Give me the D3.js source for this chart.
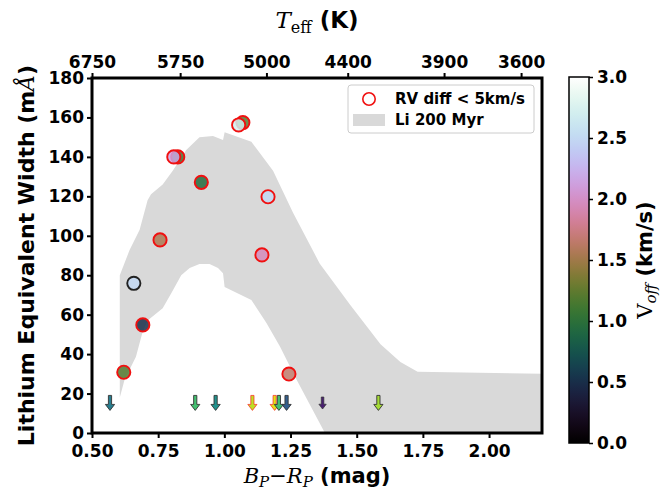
<!DOCTYPE html>
<html><head><meta charset="utf-8">
<script src="https://cdn.jsdelivr.net/npm/d3@7"></script>
<style>
body{margin:0;background:#fff;}
text{font-family:"DejaVu Sans",sans-serif;font-weight:bold;}
</style></head>
<body><svg id="c" width="660" height="491"></svg>
<script>
// ---- data ----
const detBP   = [0.62, 0.692, 0.658, 0.757, 0.824, 0.809, 0.913, 1.07, 1.054, 1.165, 1.142, 1.244];
const detEW   = [30.8, 54.8, 75.9, 97.9, 140, 140, 127.1, 157.4, 156.2, 119.8, 90.3, 29.9];
const detVoff = [1.2, 0.5, 2.5, 1.55, 1.1, 2.15, 0.95, 1.2, 2.7, 2.5, 1.95, 1.65];
const detRV   = [true, true, false, true, true, true, true, true, true, true, true, true];

const limBP   = [0.568, 0.89, 0.967, 1.106, 1.19, 1.206, 1.235, 1.371, 1.582];
const limEW   = [15, 15, 15, 15, 15, 15, 15, 15, 15];
const limVoff = [1.26, 2.1, 1.5, 2.7, 2.85, 2.1, 0.9, 0.25, 2.6];
const limRV   = [false, false, false, true, true, false, false, false, false];

const bandUpperBP = [0.605, 0.642, 0.68, 0.71, 0.723, 0.767, 0.805, 0.856, 0.906, 0.957, 0.995, 1.001, 1.102, 1.184, 1.26, 1.36, 1.475, 1.59, 1.665, 1.73, 2.2];
const bandUpperEW = [80, 92.8, 103, 118, 121, 126, 133, 143.5, 150, 150.6, 148.6, 152.5, 147.7, 133, 111.5, 86, 65, 45, 36, 31, 30];
const bandLowerBP = [2.2, 1.38, 1.273, 1.21, 1.159, 1.102, 1.001, 0.995, 0.976, 0.944, 0.906, 0.869, 0.837, 0.8, 0.767, 0.71, 0.69, 0.666, 0.623, 0.605];
const bandLowerEW = [0, 0, 27, 43.8, 55.8, 67.4, 74, 81, 83.7, 85.7, 85.7, 83.7, 80, 71, 63.2, 57, 50.7, 38.7, 27, 18];

const xTicks = [0.5, 0.75, 1.0, 1.25, 1.5, 1.75, 2.0];
const yTicks = [0, 20, 40, 60, 80, 100, 120, 140, 160, 180];
const teffLabels = ["6750", "5750", "5000", "4400", "3900", "3600"];
const teffBP = [0.5, 0.833, 1.159, 1.466, 1.83, 2.121];
const cbTicks = [0, 0.5, 1.0, 1.5, 2.0, 2.5, 3.0];

// ---- layout ----
const svg = d3.select("#c");
const L = 92, R = 542, T = 78, B = 433;
const x = d3.scaleLinear().domain([0.5, 2.2]).range([L, R]);
const y = d3.scaleLinear().domain([0, 180]).range([B, T]);
const cmap = d3.scaleSequential(d3.interpolateCubehelixDefault).domain([0, 3]);
const amap = d3.scaleSequential(d3.interpolateViridis).domain([0, 3]);

const defs = svg.append("defs");
defs.append("clipPath").attr("id", "clip").append("rect").attr("x", L).attr("y", T).attr("width", R - L).attr("height", B - T);

// band
const bandPts = bandUpperBP.map((b, i) => [b, bandUpperEW[i]]).concat(bandLowerBP.map((b, i) => [b, bandLowerEW[i]]));
svg.append("path")
  .attr("d", d3.line().x(d => x(d[0])).y(d => y(d[1]))(bandPts) + "Z")
  .attr("fill", "#d9d9d9").attr("clip-path", "url(#clip)");

// upper limit arrows
const arrowPath = "M-1.6,-8 L1.6,-8 L1.6,1 L4.6,1 L0,7 L-4.6,1 L-1.6,1 Z";
const g = svg.append("g");
limBP.forEach((b, i) => {
  g.append("path").attr("d", arrowPath)
    .attr("transform", `translate(${x(b)},${y(limEW[i])})` + (i === 7 ? " scale(0.8)" : ""))
    .attr("fill", amap(limVoff[i]))
    .attr("stroke", limRV[i] ? "#ff2020" : "#333").attr("stroke-width", limRV[i] ? 0.7 : 0.9);
});

// detections
detBP.forEach((b, i) => {
  g.append("circle").attr("cx", x(b)).attr("cy", y(detEW[i])).attr("r", 6.6)
    .attr("fill", cmap(detVoff[i])).attr("fill-opacity", 0.85)
    .attr("stroke", detRV[i] ? "#f01010" : "#222").attr("stroke-width", 1.9);
});

// axes
const fs = 17;
const xAxis = svg.append("g").attr("transform", `translate(0,${B})`)
  .call(d3.axisBottom(x).tickValues(xTicks).tickFormat(d3.format(".2f")).tickSize(5).tickSizeOuter(0));
const yAxis = svg.append("g").attr("transform", `translate(${L},0)`)
  .call(d3.axisLeft(y).tickValues(yTicks).tickFormat(d3.format("d")).tickSize(5).tickSizeOuter(0));
const tAxis = svg.append("g").attr("transform", `translate(0,${T})`)
  .call(d3.axisTop(x).tickValues(teffBP).tickFormat((d, i) => teffLabels[i]).tickSize(5).tickSizeOuter(0));
[xAxis, yAxis, tAxis].forEach(a => {
  a.select(".domain").remove();
  a.selectAll(".tick line").attr("stroke", "#000").attr("stroke-width", 2);
  a.selectAll(".tick text").attr("font-size", fs).attr("font-weight", "bold").attr("fill", "#000").attr("font-family", "DejaVu Sans");
});
xAxis.selectAll(".tick text").attr("dy", "0.95em");
yAxis.selectAll(".tick text").attr("x", -8);
tAxis.selectAll(".tick text").attr("y", -10);

// frame
svg.append("rect").attr("x", L).attr("y", T).attr("width", R - L).attr("height", B - T)
  .attr("fill", "none").attr("stroke", "#000").attr("stroke-width", 3);

// axis labels
const xl = svg.append("text").attr("x", (L + R) / 2).attr("y", 483).attr("text-anchor", "middle").attr("font-size", 21);
xl.append("tspan").attr("font-family", "DejaVu Serif").attr("font-style", "italic").attr("font-weight", "normal").text("B");
xl.append("tspan").attr("font-family", "DejaVu Serif").attr("font-style", "italic").attr("font-weight", "normal").attr("font-size", 15).attr("dy", 4).text("P");
xl.append("tspan").attr("font-family", "DejaVu Sans").attr("font-weight", "normal").attr("dy", -4).text("\u2212");
xl.append("tspan").attr("font-family", "DejaVu Serif").attr("font-style", "italic").attr("font-weight", "normal").text("R");
xl.append("tspan").attr("font-family", "DejaVu Serif").attr("font-style", "italic").attr("font-weight", "normal").attr("font-size", 15).attr("dy", 4).text("P");
xl.append("tspan").attr("dy", -4).text(" (mag)");

const yl = svg.append("text").attr("transform", `translate(34,${(T + B) / 2}) rotate(-90)`).attr("text-anchor", "middle").attr("font-size", 22);
yl.append("tspan").text("Lithium Equivalent Width (m");
yl.append("tspan").attr("font-family", "DejaVu Serif").attr("font-style", "italic").attr("font-weight", "normal").text("\u00C5");
yl.append("tspan").text(")");

const tl = svg.append("text").attr("x", (L + R) / 2).attr("y", 28).attr("text-anchor", "middle").attr("font-size", 23);
tl.append("tspan").attr("font-family", "DejaVu Serif").attr("font-style", "italic").attr("font-weight", "normal").text("T");
tl.append("tspan").attr("font-family", "DejaVu Serif").attr("font-weight", "normal").attr("font-size", 16).attr("dy", 5).text("eff");
tl.append("tspan").attr("dy", -5).text(" (K)");

// legend
const lg = svg.append("g");
lg.append("rect").attr("x", 348).attr("y", 85).attr("width", 186).attr("height", 48).attr("rx", 3)
  .attr("fill", "#fff").attr("fill-opacity", 0.8).attr("stroke", "#ccc").attr("stroke-width", 1);
lg.append("circle").attr("cx", 369).attr("cy", 99).attr("r", 6.2).attr("fill", "none").attr("stroke", "#f01010").attr("stroke-width", 1.6);
lg.append("rect").attr("x", 353).attr("y", 114).attr("width", 32).attr("height", 12).attr("fill", "#d9d9d9");
lg.append("text").attr("x", 395).attr("y", 104).attr("font-size", 15).text("RV diff < 5km/s");
lg.append("text").attr("x", 395).attr("y", 125).attr("font-size", 15).text("Li 200 Myr");

// colorbar
const cbX = 569, cbW = 20, cbT = 77, cbB = 443;
const cy = d3.scaleLinear().domain([0, 3]).range([cbB, cbT]);
const grad = defs.append("linearGradient").attr("id", "cbg").attr("x1", 0).attr("y1", 1).attr("x2", 0).attr("y2", 0);
d3.range(0, 1.0001, 0.02).forEach(t => grad.append("stop").attr("offset", t).attr("stop-color", cmap(t * 3)));
svg.append("rect").attr("x", cbX).attr("y", cbT).attr("width", cbW).attr("height", cbB - cbT).attr("fill", "url(#cbg)")
  .attr("stroke", "#000").attr("stroke-width", 1.5);
const cbAxis = svg.append("g").attr("transform", `translate(${cbX + cbW},0)`)
  .call(d3.axisRight(cy).tickValues(cbTicks).tickFormat(d3.format(".1f")).tickSize(4).tickSizeOuter(0));
cbAxis.select(".domain").remove();
cbAxis.selectAll(".tick line").attr("stroke", "#000").attr("stroke-width", 1.5);
cbAxis.selectAll(".tick text").attr("font-size", fs).attr("font-weight", "bold").attr("fill", "#000").attr("font-family", "DejaVu Sans").attr("x", 8);

const cl = svg.append("text").attr("transform", `translate(652,${(cbT + cbB) / 2}) rotate(-90)`).attr("text-anchor", "middle").attr("font-size", 21);
cl.append("tspan").attr("font-family", "DejaVu Serif").attr("font-weight", "normal").text("V");
cl.append("tspan").attr("font-family", "DejaVu Serif").attr("font-style", "italic").attr("font-weight", "normal").attr("font-size", 15).attr("dy", 4).text("off");
cl.append("tspan").attr("dy", -4).text(" (km/s)");
</script></body></html>
